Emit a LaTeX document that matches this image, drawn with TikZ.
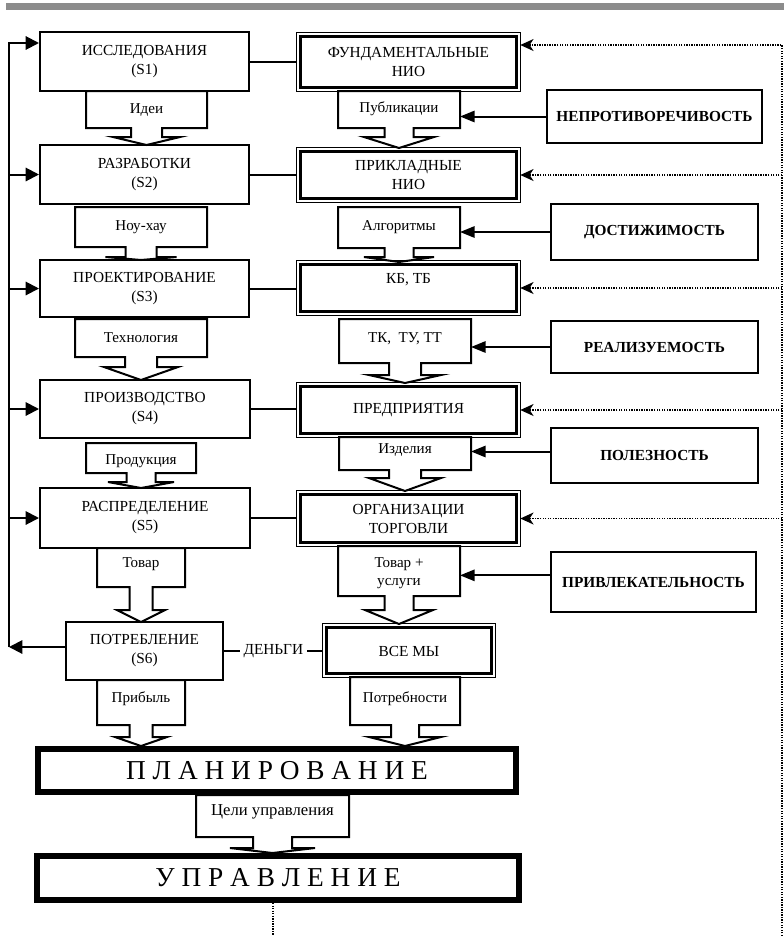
\documentclass[tikz,border=0pt]{standalone}
\usepackage{fontspec}
\setmainfont{Liberation Serif}
\usetikzlibrary{arrows.meta}

% rectangle node given by its corners (in px units of the picture)
\newcommand\rectnode[7]{%
  \node[#1, minimum width={(#5-#3)*0.75pt}, minimum height={(#6-#4)*0.75pt}]
    (#2) at ({(#3+#5)/2},{(#4+#6)/2}) {#7};}

% thin outer line plus heavier inner line for the organisation boxes
\newcommand\orgframe[1]{%
  \draw[line width=1.1pt] (#1.north west) rectangle (#1.south east);
  \draw[line width=2.2pt] ([shift={(2.7pt,-2.7pt)}]#1.north west)
    rectangle ([shift={(-2.7pt,2.7pt)}]#1.south east);}

% block arrow: name, centre x, body half width, top, body bottom,
% neck half width, neck bottom, head half width, tip
\newcommand\flowarrow[9]{%
  \draw[flowshape] ({#2-#3},#4) -- ({#2-#3},#5) -- ({#2-#6},#5) -- ({#2-#6},#7)
    -- ({#2-#8},#7) -- (#2,#9) -- ({#2+#8},#7) -- ({#2+#6},#7) -- ({#2+#6},#5)
    -- ({#2+#3},#5) -- ({#2+#3},#4) -- cycle;
  \coordinate (#1) at ({#2+#3},{(#4+#5)/2});}

% solid head at the end of a dotted control line
\newcommand\dothead[1]{\draw[line width=1.2pt, dottip] ([xshift=8pt]#1) -- (#1);}

\begin{document}
\begin{tikzpicture}[
  x=0.75pt, y=-0.75pt,
  stagebox/.style={draw, line width=1.5pt, inner sep=0pt, align=center,
    font=\fontsize{11.5}{14.25}\selectfont},
  orgbox/.style={inner sep=0pt, align=center, font=\fontsize{11.5}{14.25}\selectfont},
  critbox/.style={draw, line width=2pt, inner sep=0pt, align=center,
    font=\bfseries\fontsize{11.5}{14}\selectfont},
  levelbox/.style={draw, line width=4.3pt, inner sep=0pt, align=center,
    font=\fontsize{20.5}{24}\selectfont},
  flowshape/.style={draw, fill=white, line width=1.5pt, line join=miter},
  flowtext/.style={inner sep=0pt, align=center, font=\fontsize{11.3}{13.5}\selectfont},
  link/.style={line width=1.5pt},
  feedtip/.style={-{Triangle[length=10pt,width=10pt]}},
  crittip/.style={-{Triangle[length=11pt,width=8.5pt]}},
  dotline/.style={line width=1.2pt, dash pattern=on 1pt off 0.9pt},
  dottip/.style={-{Stealth[length=10pt,width=9pt,inset=3pt]}},
]
\useasboundingbox (0,0) rectangle (784,936);

% header rule
\fill[black!45] (6,3) rectangle (784,10);

% ---- block arrows (drawn first, boxes go on top) ----
\flowarrow{ideas}{146.5}{60.5}{91}{128}{15.5}{137}{33.5}{145}
\flowarrow{knowhow}{141}{66}{207}{247}{15.5}{257}{35.5}{260}
\flowarrow{techn}{141}{66}{319}{357}{16}{367}{37}{380}
\flowarrow{product}{141}{55}{443}{473}{14.5}{482}{33}{488}
\flowarrow{goods}{141}{44}{548}{587}{11.5}{610}{24}{622}
\flowarrow{profit}{141}{44}{680}{725}{11.5}{737}{26}{746}
\flowarrow{goals}{272.5}{76.5}{795}{837}{19.5}{848}{42.5}{853}
\flowarrow{publ}{399}{61}{91}{128}{14.5}{137}{35}{148}
\flowarrow{algo}{399}{61}{207}{248}{14.5}{257}{35}{262}
\flowarrow{specs}{405}{66}{319}{363}{16}{375}{36}{383}
\flowarrow{items}{405}{66}{437}{470}{16}{478}{36}{491}
\flowarrow{service}{399}{61}{546}{596}{14.5}{610}{34}{624}
\flowarrow{needs}{405}{55}{677}{725}{14}{737}{36}{746}

\node[flowtext] (tideas) at (146.5,110) {Идеи};
\node[flowtext] (tknow) at (141,227) {Ноу-хау};
\node[flowtext] (ttech) at (141,338) {Технология};
\node[flowtext] (tprod) at (141,461) {Продукция};
\node[flowtext] (tgoods) at (141,564) {Товар};
\node[flowtext] (tprofit) at (141,699) {Прибыль};
\node[flowtext, font=\fontsize{12.5}{15}\selectfont] (tgoals) at (272.5,812) {Цели управления};
\node[flowtext] (tpubl) at (399,109) {Публикации};
\node[flowtext] (talgo) at (399,227) {Алгоритмы};
\node[flowtext] (tspecs) at (405,339) {ТК,\ \ ТУ, ТТ};
\node[flowtext] (titems) at (405,450) {Изделия};
\node[flowtext] (tserv) at (399,573) {Товар +\\услуги};
\node[flowtext] (tneeds) at (405,699) {Потребности};

% ---- stages ----
\rectnode{stagebox}{s1}{40}{32}{249}{91}{ИССЛЕДОВАНИЯ\\(S1)}
\rectnode{stagebox}{s2}{40}{145}{249}{204}{РАЗРАБОТКИ\\(S2)}
\rectnode{stagebox}{s3}{40}{260}{249}{317}{ПРОЕКТИРОВАНИЕ\\(S3)}
\rectnode{stagebox}{s4}{40}{380}{250}{438}{ПРОИЗВОДСТВО\\(S4)}
\rectnode{stagebox}{s5}{40}{488}{250}{548}{РАСПРЕДЕЛЕНИЕ\\(S5)}
\rectnode{stagebox}{s6}{66}{622}{223}{680}{ПОТРЕБЛЕНИЕ\\(S6)}

% ---- organisations ----
\rectnode{orgbox}{f1}{297}{33}{520}{91}{ФУНДАМЕНТАЛЬНЫЕ\\НИО}
\rectnode{orgbox}{f2}{297}{148}{520}{202}{ПРИКЛАДНЫЕ\\НИО}
\rectnode{orgbox}{f3}{297}{261}{520}{315}{КБ, ТБ\\~}
\rectnode{orgbox}{f4}{297}{383}{520}{437}{ПРЕДПРИЯТИЯ}
\rectnode{orgbox}{f5}{297}{491}{520}{546}{ОРГАНИЗАЦИИ\\ТОРГОВЛИ}
\rectnode{orgbox}{f6}{323}{624}{495}{677}{~\\[-4.5pt]ВСЕ МЫ}
\orgframe{f1}\orgframe{f2}\orgframe{f3}\orgframe{f4}\orgframe{f5}\orgframe{f6}

% ---- criteria ----
\rectnode{critbox}{c1}{547}{90}{762}{143}{НЕПРОТИВОРЕЧИВОСТЬ}
\rectnode{critbox}{c2}{551}{204}{758}{260}{ДОСТИЖИМОСТЬ}
\rectnode{critbox}{c3}{551}{321}{758}{373}{РЕАЛИЗУЕМОСТЬ}
\rectnode{critbox}{c4}{551}{428}{758}{483}{ПОЛЕЗНОСТЬ}
\rectnode{critbox}{c5}{551}{552}{756}{612}{ПРИВЛЕКАТЕЛЬНОСТЬ}

% ---- planning and control ----
\rectnode{levelbox}{plan}{37.85}{748.85}{516.15}{792.15}{П Л А Н И Р О В А Н И Е}
\rectnode{levelbox}{ctrl}{36.85}{855.85}{519.15}{900.15}{У П Р А В Л Е Н И Е}

% ---- stage to organisation links ----
\foreach \i in {1,...,5}
  \draw[link] (s\i.east) -- (s\i.east -| f\i.west);
\draw[link] (s6.east) -- (s6.east -| f6.west)
  node[midway, fill=white, inner xsep=3pt, inner ysep=1pt,
       font=\fontsize{11.5}{14}\selectfont] (money) {ДЕНЬГИ};

% ---- criteria arrows ----
\coordinate (c4out) at ([yshift=3pt]c4.west);
\coordinate (c5out) at ([yshift=5pt]c5.west);
\draw[link, crittip] (c1.west) -- (c1.west -| publ);
\draw[link, crittip] (c2.west) -- (c2.west -| algo);
\draw[link, crittip] (c3.west) -- (c3.west -| specs);
\draw[link, crittip] (c4out) -- (c4out -| items);
\draw[link, crittip] (c5out) -- (c5out -| service);

% ---- feedback loop on the left ----
\coordinate (fbtop) at (9,43);
\coordinate (s6out) at ([yshift=3pt]s6.west);
\draw[link, feedtip] (s6out) -- (fbtop |- s6out);
\draw[link, feedtip] (fbtop |- s6out) -- (fbtop) -- (fbtop -| s1.west);
\foreach \i in {2,...,5}
  \draw[link, feedtip] (fbtop |- s\i.west) -- (s\i.west);

% ---- dotted control lines ----
\coordinate (dtop) at (782,45);
\coordinate (dbot) at (782,936);
\coordinate (ctrlout) at ([xshift=-3.75pt]ctrl.south);
\coordinate (f1in) at (dtop -| f1.east);
\draw[dotline] (dbot) -- (dtop) -- (f1in);
\dothead{f1in}
\foreach \i in {2,...,5}{
  \draw[dotline] (dtop |- f\i.east) -- (f\i.east);
  \dothead{f\i.east}
}
\draw[dotline] (ctrlout) -- (ctrlout |- dbot);

\end{tikzpicture}
\end{document}
